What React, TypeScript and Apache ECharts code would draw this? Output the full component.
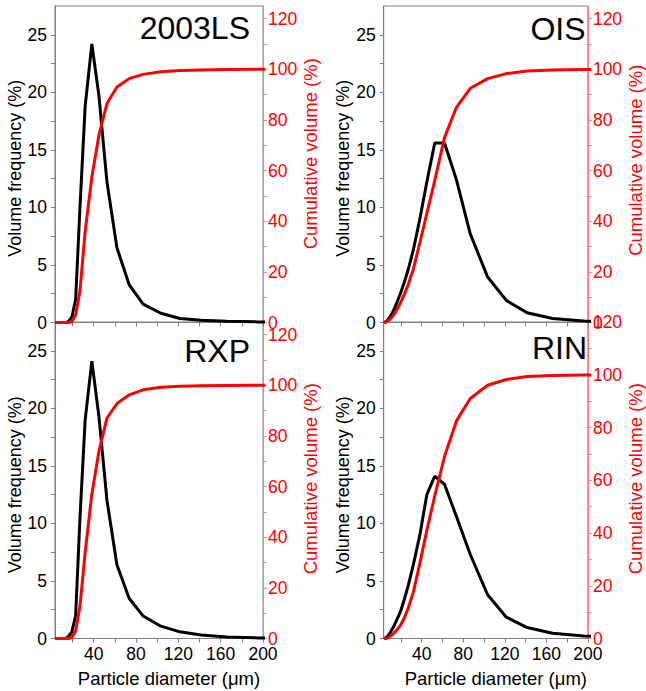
import React, { useEffect, useRef } from "react";
import * as echarts from "echarts";

// Particle diameter bins (µm)
const diameters = [3.7, 4.4, 5.2, 6.1, 7.2, 8.5, 10, 11.9, 14, 16.5, 19.5, 23, 27.1, 32, 38.3, 45, 52.6, 62, 73.5, 86.8, 103.5, 121.5, 141.5, 166, 196, 230];

// Volume frequency (%) and cumulative volume (%) per sample
const ls2003Freq = [0, 0, 0, 0, 0, 0, 0, 0, 0, 0.1, 0.5, 2.0, 10, 18.8, 24.2, 19.7, 12.2, 6.5, 3.3, 1.6, 0.8, 0.35, 0.2, 0.1, 0.05, 0.03];
const ls2003Cum = [0, 0, 0, 0, 0, 0, 0, 0, 0, 0, 0.5, 3, 12.5, 36, 57.5, 74, 86.5, 93, 96.3, 98, 99, 99.5, 99.7, 99.9, 100, 100];
const oisFreq = [0, 0.02, 0.05, 0.1, 0.2, 0.35, 0.55, 0.85, 1.25, 1.8, 2.5, 3.4, 4.6, 6.3, 9, 12.2, 15.6, 15.6, 12.4, 7.7, 3.95, 1.92, 0.84, 0.35, 0.12, 0.05];
const oisCum = [0, 0.05, 0.1, 0.25, 0.5, 0.9, 1.5, 2.4, 3.6, 5.3, 7.6, 10.8, 15, 21, 31.5, 43, 56, 73, 85, 92.5, 96.3, 98.3, 99.3, 99.7, 99.9, 100];
const rxpFreq = [0, 0, 0, 0, 0, 0, 0, 0, 0, 0.2, 0.6, 2.0, 10.5, 19.0, 24.1, 19.3, 12.0, 6.4, 3.5, 1.95, 1.07, 0.58, 0.3, 0.12, 0.05, 0.03];
const rxpCum = [0, 0, 0, 0, 0, 0, 0, 0, 0, 0, 0.5, 3, 12.8, 34, 57, 74, 87, 92.8, 96.2, 98.2, 99.2, 99.6, 99.8, 99.9, 100, 100];
const rinFreq = [0, 0.02, 0.05, 0.1, 0.2, 0.35, 0.55, 0.85, 1.2, 1.7, 2.3, 3.3, 4.6, 6.4, 9.0, 12.5, 14.1, 13.4, 10.6, 7.3, 3.8, 1.85, 0.95, 0.45, 0.22, 0.1];
const rinCum = [0, 0, 0, 0, 0.2, 0.5, 0.9, 1.5, 2.3, 3.4, 4.9, 7.5, 11.5, 17.5, 28.5, 41, 54, 69, 82.5, 91, 96, 98.2, 99.3, 99.7, 99.9, 100];

// Tick labels / tick positions
const xLabelValues = [40, 80, 120, 160, 200];
const xTickValues = [20, 40, 60, 80, 100, 120, 140, 160, 180, 200];
const freqLabelValues = [0, 5, 10, 15, 20, 25];
const freqTickValues = [0, 2.5, 5, 7.5, 10, 12.5, 15, 17.5, 20, 22.5, 25];
const cumLabelValues = [0, 20, 40, 60, 80, 100, 120];
const cumTickValues = [0, 10, 20, 30, 40, 50, 60, 70, 80, 90, 100, 110, 120];

const sampleNames = ["2003LS", "OIS", "RXP", "RIN"];

const FONT = '"Liberation Sans", Arial, sans-serif';
const GRAY = "#808080";
const PINK = "#ff8080";

const panels = [
  { name: sampleNames[0], freq: ls2003Freq, cum: ls2003Cum, left: 55, top: 6, cumMax: 125, bottom: false, tx: 250, ty: 28.4, rPad: 21, lPad: 8 },
  { name: sampleNames[1], freq: oisFreq, cum: oisCum, left: 383.7, top: 6, cumMax: 125, bottom: false, tx: 585.5, ty: 28.7, rPad: 8, lPad: 8 },
  { name: sampleNames[2], freq: rxpFreq, cum: rxpCum, left: 55, top: 322, cumMax: 125, bottom: true, tx: 250, ty: 351, rPad: 3, lPad: 9 },
  { name: sampleNames[3], freq: rinFreq, cum: rinCum, left: 383.7, top: 322, cumMax: 120, bottom: true, tx: 587, ty: 348, rPad: 3, lPad: 9 },
];

export default function App() {
  const ref = useRef<HTMLDivElement>(null);
  useEffect(() => {
    document.body.style.margin = "0";
    if (!ref.current) return;
    const chart = echarts.init(ref.current, undefined, { renderer: "svg" });
    const grids: any[] = [];
    const xAxes: any[] = [];
    const yAxes: any[] = [];
    const series: any[] = [];
    const graphics: any[] = [];
    panels.forEach((p, i) => {
      grids.push({
        left: p.left,
        top: p.top,
        width: 208,
        height: 316.5,
        show: true,
        borderColor: GRAY,
        borderWidth: 1,
        backgroundColor: "transparent",
      });
      xAxes.push({
        type: "value",
        gridIndex: i,
        min: 3.5,
        max: 200,
        splitLine: { show: false },
        axisLine: { show: true, onZero: false, lineStyle: { color: GRAY, width: 1 } },
        axisTick: { show: true, inside: false, length: 4, customValues: xTickValues, lineStyle: { color: GRAY } },
        axisLabel: {
          show: p.bottom,
          customValues: xLabelValues,
          fontSize: 17.5,
          color: "#000",
          fontFamily: FONT,
          margin: 6,
        },
        name: p.bottom ? "Particle diameter (\u03bcm)" : "",
        nameLocation: "middle",
        nameGap: 30,
        nameTextStyle: { fontSize: 18.5, color: "#000", fontFamily: FONT, padding: [0, 0, 0, 20] },
      });
      yAxes.push({
        type: "value",
        gridIndex: i,
        position: "left",
        min: 0,
        max: 27.5,
        splitLine: { show: false },
        axisLine: { show: true, onZero: false, lineStyle: { color: GRAY, width: 1 } },
        axisTick: { show: true, inside: false, length: 4, customValues: freqTickValues, lineStyle: { color: GRAY } },
        axisLabel: { customValues: freqLabelValues, fontSize: 17.5, color: "#000", fontFamily: FONT, margin: 8 },
        name: "Volume frequency (%)",
        nameLocation: "middle",
        nameRotate: 90,
        nameGap: 29,
        nameTextStyle: { fontSize: 18, color: "#000", fontFamily: FONT, padding: [0, p.lPad, 0, 0] },
      });
      yAxes.push({
        type: "value",
        gridIndex: i,
        position: "right",
        min: 0,
        max: p.cumMax,
        splitLine: { show: false },
        axisLine: { show: true, onZero: false, lineStyle: { color: PINK, width: 1 } },
        axisTick: { show: true, inside: false, length: 4, customValues: cumTickValues, lineStyle: { color: PINK } },
        axisLabel: { customValues: cumLabelValues, fontSize: 17.5, color: "#ff0000", fontFamily: FONT, margin: 5 },
        name: "Cumulative volume (%)",
        nameLocation: "middle",
        nameRotate: 90,
        nameGap: 36,
        nameTextStyle: { fontSize: 18.5, color: "#ff0000", fontFamily: FONT, padding: [0, 0, 0, p.rPad] },
      });
      series.push({
        type: "line",
        xAxisIndex: i,
        yAxisIndex: i * 2,
        data: diameters.map((d, k) => [d, p.freq[k]]),
        showSymbol: false,
        symbol: "none",
        lineStyle: { color: "#000000", width: 3 },
        itemStyle: { color: "#000000" },
        clip: true,
      });
      series.push({
        type: "line",
        xAxisIndex: i,
        yAxisIndex: i * 2 + 1,
        data: diameters.map((d, k) => [d, p.cum[k]]),
        showSymbol: false,
        symbol: "none",
        lineStyle: { color: "#ff0000", width: 3 },
        itemStyle: { color: "#ff0000" },
        clip: true,
      });
      graphics.push({
        type: "text",
        x: p.tx,
        y: p.ty,
        z: 100,
        style: {
          text: p.name,
          fontSize: 32,
          fontFamily: FONT,
          fill: "#000",
          align: "right",
          verticalAlign: "middle",
          textAlign: "right",
          textVerticalAlign: "middle",
        },
      });
    });
    chart.setOption({
      animation: false,
      backgroundColor: "#ffffff",
      textStyle: { fontFamily: FONT },
      grid: grids,
      xAxis: xAxes,
      yAxis: yAxes,
      series,
      graphic: graphics,
    });
    return () => chart.dispose();
  }, []);
  return <div ref={ref} style={{ width: 646, height: 691 }} />;
}
